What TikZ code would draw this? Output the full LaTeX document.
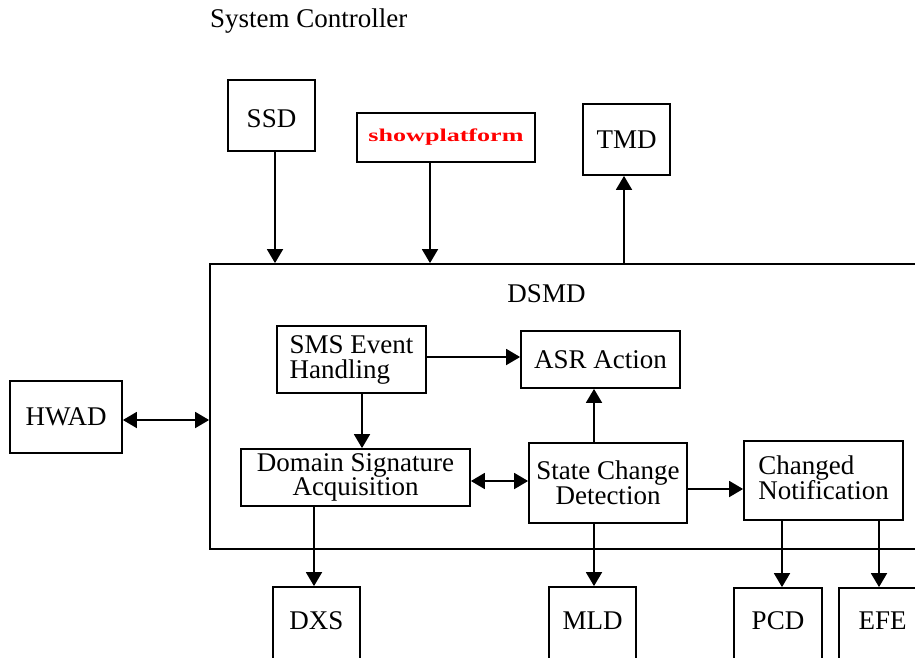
\documentclass[tikz,border=0pt]{standalone}
\usepackage{fontspec}
\setmainfont{Liberation Serif}
\usepackage{graphicx}
\usetikzlibrary{arrows.meta}
\newcommand{\mainsz}{\fontsize{27}{25}\selectfont}
\tikzset{
  box/.style={draw, line width=1.8pt, inner sep=0pt, font=\mainsz},
  conn/.style={line width=1.8pt, -{Triangle[length=14pt,width=16pt]}},
  dconn/.style={line width=1.8pt, {Triangle[length=14pt,width=16pt]}-{Triangle[length=14pt,width=16pt]}},
}
\begin{document}
\begin{tikzpicture}[x=1pt,y=-1pt]
\useasboundingbox (0,0) rectangle (915,658);
\clip (0,0) rectangle (915,658);
\fill[white] (0,0) rectangle (915,658);

\node[font=\mainsz, anchor=base west, inner sep=0pt] (title) at (210,28) {System Controller};

% top boxes
\node[box, minimum width=87pt, minimum height=71pt, text height=24pt, text depth=0pt] (ssd) at (271.5,115.5) {SSD};
\node[box, minimum width=178pt, minimum height=49pt, text=red, font=\fontsize{18}{20}\selectfont\bfseries] (show) at (446,137.5) {\resizebox{155pt}{\height}{showplatform}};
\node[box, minimum width=87pt, minimum height=71pt] (tmd) at (626.5,139.5) {TMD};

% DSMD container
\node[box, minimum width=730pt, minimum height=285pt] (dsmd) at (575,406.5) {};
\node[font=\mainsz, anchor=base, inner sep=0pt] (dsmdlabel) at (546.5,302) {DSMD};

\node[box, minimum width=112pt, minimum height=72pt] (hwad) at (66,417) {HWAD};

% inner boxes
\node[box, minimum width=149pt, minimum height=67pt, align=left] (sms) at (351.5,359.5) {SMS Event\\Handling};
\node[box, minimum width=159pt, minimum height=57pt] (asr) at (600.5,359.5) {ASR Action};
\node[box, minimum width=229pt, minimum height=57pt, align=center, font=\fontsize{27}{22}\selectfont] (dsa) at (355.5,477.5) {Domain Signature\\Acquisition};
\node[box, minimum width=158pt, minimum height=80pt, align=center] (scd) at (608,483) {State Change\\Detection};
\node[box, minimum width=159pt, minimum height=79pt, align=left] (cn) at (823.5,480.5) {Changed\\Notification\vphantom{g}};

% bottom boxes
\node[box, minimum width=87pt, minimum height=75pt, text depth=8pt] (dxs) at (316.5,624.5) {DXS};
\node[box, minimum width=87pt, minimum height=75pt, text depth=8pt] (mld) at (592.5,624.5) {MLD};
\node[box, minimum width=88pt, minimum height=74pt, text depth=8pt] (pcd) at (778,625) {PCD};
\node[box, minimum width=87pt, minimum height=74pt, text depth=8pt] (efe) at (882.5,625) {EFE};

% connector guide coordinates
\coordinate (xssd) at (275,0);
\coordinate (xshow) at (430,0);
\coordinate (xtmd) at (624,0);
\coordinate (xsms) at (362,0);
\coordinate (xdxs) at (314,0);
\coordinate (xscd) at (594,0);
\coordinate (xpcd) at (782,0);
\coordinate (xefe) at (879,0);
\coordinate (yhw) at (0,420);
\coordinate (ysa) at (0,357);
\coordinate (yds) at (0,481);
\coordinate (ycn) at (0,489);

\draw[conn] (ssd.south -| xssd) -- (dsmd.north -| xssd);
\draw[conn] (show.south -| xshow) -- (dsmd.north -| xshow);
\draw[conn] (dsmd.north -| xtmd) -- (tmd.south -| xtmd);
\draw[dconn] (hwad.east |- yhw) -- (dsmd.west |- yhw);
\draw[conn] (sms.east |- ysa) -- (asr.west |- ysa);
\draw[conn] (sms.south -| xsms) -- (dsa.north -| xsms);
\draw[dconn] (dsa.east |- yds) -- (scd.west |- yds);
\draw[conn] (scd.north -| xscd) -- (asr.south -| xscd);
\draw[conn] (scd.east |- ycn) -- (cn.west |- ycn);
\draw[conn] (dsa.south -| xdxs) -- (dxs.north -| xdxs);
\draw[conn] (scd.south -| xscd) -- (mld.north -| xscd);
\draw[conn] (cn.south -| xpcd) -- (pcd.north -| xpcd);
\draw[conn] (cn.south -| xefe) -- (efe.north -| xefe);
\end{tikzpicture}
\end{document}
